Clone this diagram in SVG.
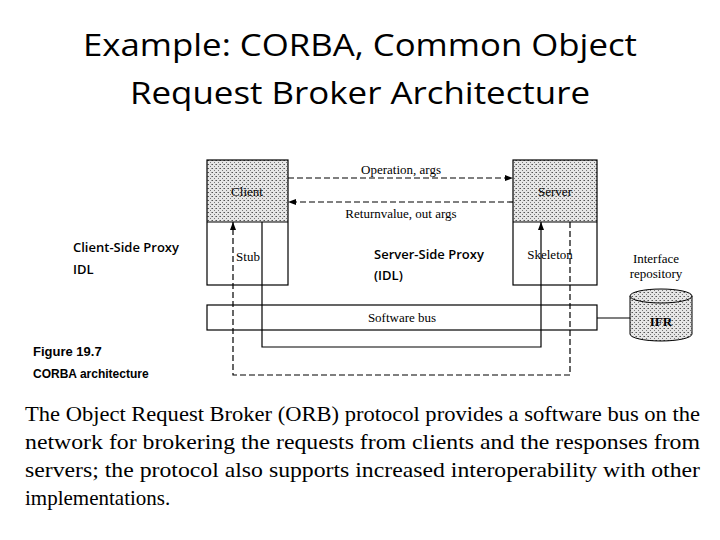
<svg xmlns="http://www.w3.org/2000/svg" width="720" height="540" viewBox="0 0 720 540">
<defs>
<pattern id="dots" width="4" height="4" patternUnits="userSpaceOnUse"><rect width="4" height="4" fill="#e6e6e6"/><rect x="0" y="0" width="1" height="1" fill="#555"/><rect x="2" y="2" width="1" height="1" fill="#777"/><rect x="3" y="0" width="1" height="1" fill="#999"/></pattern>
<marker id="ah" markerWidth="8" markerHeight="6" refX="8" refY="3" orient="auto" markerUnits="userSpaceOnUse"><path d="M0,0 L8,3 L0,6 z" fill="#000"/></marker>
</defs>
<style>
.t{font-family:"Liberation Serif",serif;font-size:13px;fill:#000}
.s{font-family:"Open Sans","Noto Sans",sans-serif;font-size:13px;font-weight:600;fill:#000}
.ln{fill:none;stroke:#000;stroke-width:1.2}
.d{stroke-dasharray:6,3}
.p{font-family:"Liberation Serif",serif;font-size:21px;fill:#000}
.h{font-family:"Open Sans","Noto Sans",sans-serif;font-size:31px;fill:#000}
</style>
<rect width="720" height="540" fill="#fff"/>
<text x="83" y="56" class="h" textLength="554" lengthAdjust="spacingAndGlyphs">Example: CORBA, Common Object</text>
<text x="130" y="104" class="h" textLength="460" lengthAdjust="spacingAndGlyphs">Request Broker Architecture</text>
<g id="client"><rect x="207" y="160" width="81" height="62" fill="url(#dots)"/><rect x="207" y="160" width="81" height="125" class="ln"/><text x="247" y="196" text-anchor="middle" class="t">Client</text><line x1="207" y1="222" x2="288" y2="222" class="ln"/><text x="248" y="261" text-anchor="middle" class="t">Stub</text></g>
<g id="server"><rect x="513" y="160" width="84" height="62" fill="url(#dots)"/><rect x="513" y="160" width="84" height="125" class="ln"/><text x="555" y="196" text-anchor="middle" class="t">Server</text><line x1="513" y1="222" x2="597" y2="222" class="ln"/><text x="550" y="259" text-anchor="middle" class="t" font-size="12">Skeleton</text></g>
<g id="bus"><rect x="207" y="305" width="390" height="25" class="ln"/><text x="402" y="322" text-anchor="middle" class="t">Software bus</text></g>
<g id="ifr"><path d="M630,296 L630,334 A31,7 0 0 0 692,334 L692,296" fill="url(#dots)" stroke="#000"/><ellipse cx="661" cy="296" rx="31" ry="7" fill="url(#dots)" stroke="#000"/><text x="661" y="326" text-anchor="middle" class="t" font-weight="bold">IFR</text><text x="656" y="263" text-anchor="middle" class="t">Interface</text><text x="656" y="278" text-anchor="middle" class="t">repository</text></g>
<g id="connectors">
<line x1="288" y1="178" x2="513" y2="178" class="ln d" marker-end="url(#ah)"/>
<line x1="513" y1="202" x2="288" y2="202" class="ln d" marker-end="url(#ah)"/>
<text x="401" y="174" text-anchor="middle" class="t">Operation, args</text>
<text x="401" y="218" text-anchor="middle" class="t">Returnvalue, out args</text>
<polyline points="570,222 570,375 233,375 233,222" class="ln d" marker-end="url(#ah)"/>
<polyline points="262,222 262,347 541,347 541,222" class="ln" marker-end="url(#ah)"/>
<line x1="597" y1="318" x2="630" y2="318" class="ln"/>
</g>
<text x="73" y="252" class="s">Client-Side Proxy</text>
<text x="73" y="274" class="s">IDL</text>
<text x="374" y="259" class="s">Server-Side Proxy</text>
<text x="374" y="280" class="s">(IDL)</text>
<text x="33" y="356" font-family="Liberation Sans, sans-serif" font-size="13" font-weight="bold">Figure 19.7</text>
<text x="33" y="378" font-family="Liberation Sans, sans-serif" font-size="12" font-weight="bold">CORBA architecture</text>
<text x="25" y="421" class="p" textLength="675" lengthAdjust="spacingAndGlyphs">The Object Request Broker (ORB) protocol provides a software bus on the</text>
<text x="25" y="449" class="p" textLength="675" lengthAdjust="spacingAndGlyphs">network for brokering the requests from clients and the responses from</text>
<text x="25" y="477" class="p" textLength="675" lengthAdjust="spacingAndGlyphs">servers; the protocol also supports increased interoperability with other</text>
<text x="25" y="505" class="p">implementations.</text>
</svg>
